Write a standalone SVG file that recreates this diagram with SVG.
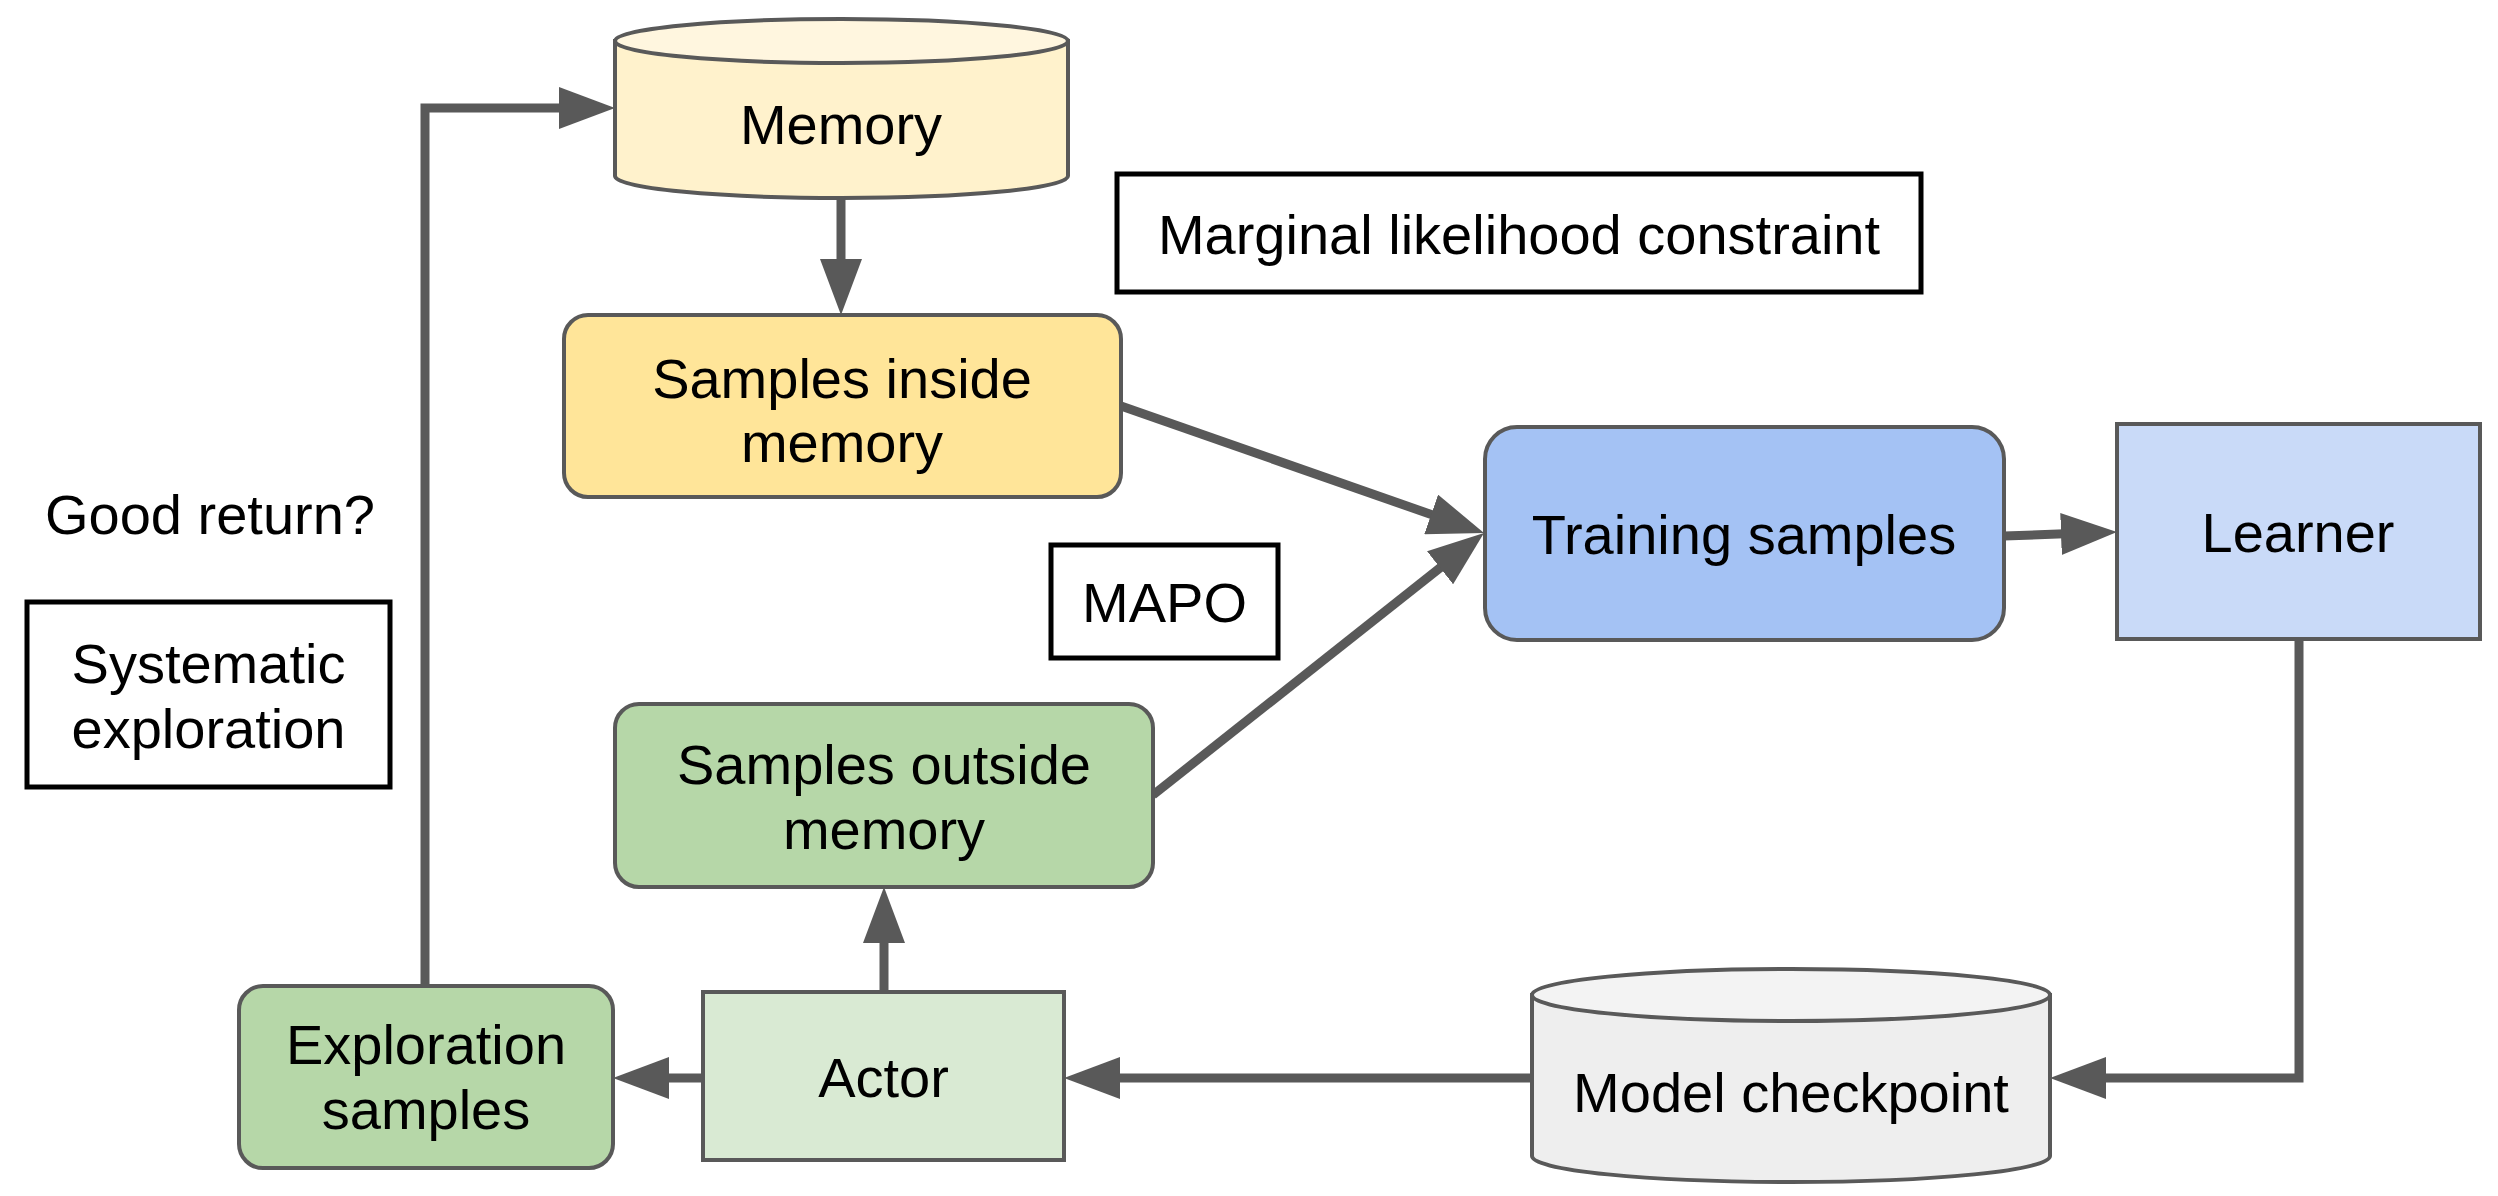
<svg xmlns="http://www.w3.org/2000/svg" width="2498" height="1196" viewBox="0 0 2498 1196">
<style>
text{font-family:"Liberation Sans",Arial,sans-serif;font-size:56px;fill:#000;text-anchor:middle}
.node{stroke:#595959;stroke-width:4}
.lbl{fill:#fff;stroke:#000;stroke-width:5}
.conn{fill:none;stroke:#595959;stroke-width:9}
</style>
<defs>
<marker id="ah" markerUnits="userSpaceOnUse" markerWidth="56" markerHeight="42" refX="10" refY="21" orient="auto" viewBox="0 0 56 42">
<path d="M0,0 L56,21 L0,42 z" fill="#595959"/>
</marker>
</defs>
<rect width="2498" height="1196" fill="#fff"/>
<g id="connectors">
<path class="conn" d="M425,986 V108 H569" marker-end="url(#ah)"/>
<path class="conn" d="M841,198 V269" marker-end="url(#ah)"/>
<path class="conn" d="M1121,406 L1440.6,517.8" marker-end="url(#ah)"/>
<path class="conn" d="M1153,795 L1447.9,561.6" marker-end="url(#ah)"/>
<path class="conn" d="M2004,536 L2071,533.6" marker-end="url(#ah)"/>
<path class="conn" d="M2299,639 V1078 H2096" marker-end="url(#ah)"/>
<path class="conn" d="M1532,1078 H1110" marker-end="url(#ah)"/>
<path class="conn" d="M703,1078 H659" marker-end="url(#ah)"/>
<path class="conn" d="M884,992 V933" marker-end="url(#ah)"/>
</g>
<g id="memory">
<path class="node" fill="#fff2cc" d="M615,41 V176 A226.5,22 0 0 0 1068,176 V41 Z"/>
<ellipse class="node" fill="#fff6df" cx="841.5" cy="41" rx="226.5" ry="22"/>
<text x="841" y="144">Memory</text>
</g>
<g id="marginal">
<rect class="lbl" x="1117" y="174" width="804" height="118"/>
<text x="1519" y="254">Marginal likelihood constraint</text>
</g>
<g id="samples-inside">
<rect class="node" fill="#ffe599" x="564" y="315" width="557" height="182" rx="24"/>
<text x="842" y="398">Samples inside</text>
<text x="842" y="462">memory</text>
</g>
<g id="training">
<rect class="node" fill="#a4c2f4" x="1485" y="427" width="519" height="213" rx="32"/>
<text x="1744" y="554">Training samples</text>
</g>
<g id="learner">
<rect class="node" fill="#c9daf8" x="2117" y="424" width="363" height="215"/>
<text x="2298" y="552">Learner</text>
</g>
<g id="good-return">
<text x="210" y="534">Good return?</text>
</g>
<g id="systematic">
<rect class="lbl" x="27" y="602" width="363" height="185"/>
<text x="208.5" y="683">Systematic</text>
<text x="208.5" y="748">exploration</text>
</g>
<g id="mapo">
<rect class="lbl" x="1051" y="545" width="227" height="113"/>
<text x="1164.5" y="622">MAPO</text>
</g>
<g id="samples-outside">
<rect class="node" fill="#b6d7a8" x="615" y="704" width="538" height="183" rx="24"/>
<text x="884" y="784">Samples outside</text>
<text x="884" y="849">memory</text>
</g>
<g id="exploration">
<rect class="node" fill="#b6d7a8" x="239" y="986" width="374" height="182" rx="24"/>
<text x="426" y="1064">Exploration</text>
<text x="426" y="1129">samples</text>
</g>
<g id="actor">
<rect class="node" fill="#d9ead3" x="703" y="992" width="361" height="168"/>
<text x="883.5" y="1097">Actor</text>
</g>
<g id="checkpoint">
<path class="node" fill="#eeeeee" d="M1532,995 V1156 A259,26 0 0 0 2050,1156 V995 Z"/>
<ellipse class="node" fill="#f3f3f3" cx="1791" cy="995" rx="259" ry="26"/>
<text x="1791" y="1112">Model checkpoint</text>
</g>
</svg>
